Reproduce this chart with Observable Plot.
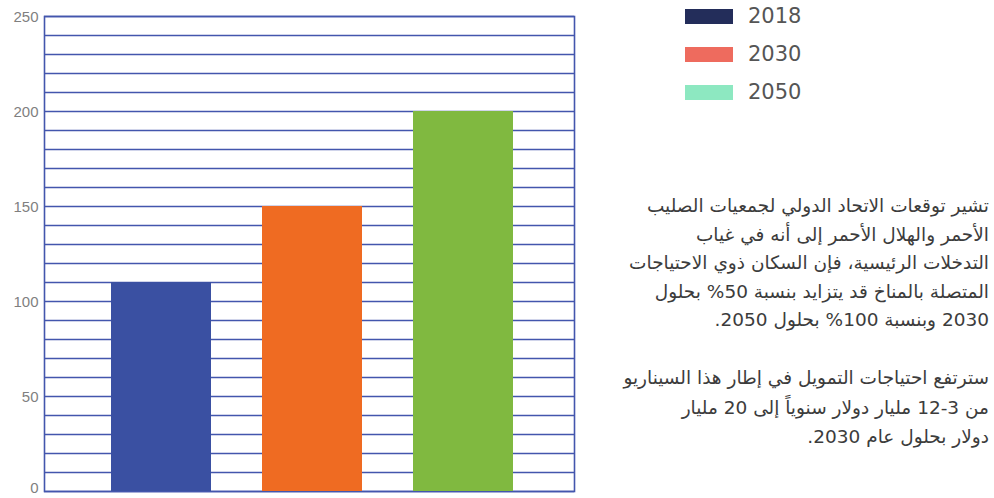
<!DOCTYPE html>
<html>
<head>
<meta charset="utf-8">
<script src="https://cdn.jsdelivr.net/npm/d3@7"></script>
<script src="https://cdn.jsdelivr.net/npm/@observablehq/plot@0.6"></script>
<style>
  html, body { margin: 0; padding: 0; background: #fff; }
  #wrap { position: relative; width: 994px; height: 498px; overflow: hidden; }
  #chart { position: absolute; left: 0; top: 0; }
  #legend { position: absolute; left: 685px; top: 0; font-family: "DejaVu Sans", sans-serif; font-size: 21px; color: #555; }
  .row { position: absolute; left: 0; white-space: nowrap; display: flex; align-items: center; height: 20px; }
  .sw { width: 48px; height: 15px; margin-right: 15px; }
  .note { position: absolute; right: 5px; direction: rtl; text-align: right; white-space: nowrap;
          font-family: "DejaVu Sans", sans-serif; font-size: 18.5px; color: #3c3c3c; }
  .ltr { direction: ltr; unicode-bidi: isolate; }
</style>
</head>
<body>
<div id="wrap">
  <div id="chart"></div>
  <div id="legend"></div>
  <div class="note" id="note1" style="top:192px; line-height:28.5px;"></div>
  <div class="note" id="note2" style="top:363px; line-height:29.5px;"></div>
</div>
<script>
const years = ["2018", "2030", "2050"];
const values = [110, 150, 200];
const barColors = ["#3a50a2", "#ef6b22", "#80b940"];
const legendColors = ["#232d5a", "#ee6b5e", "#8de8c1"];
const yTicks = [50, 100, 150, 200, 250];
const yTickZero = [0];
const gridValues = [0,10,20,30,40,50,60,70,80,90,100,110,120,130,140,150,160,170,180,190,200,210,220,230,240,250];
const note1Lines = [
  "تشير توقعات الاتحاد الدولي لجمعيات الصليب",
  "الأحمر والهلال الأحمر إلى أنه في غياب",
  "التدخلات الرئيسية، فإن السكان ذوي الاحتياجات",
  "المتصلة بالمناخ قد يتزايد بنسبة <span class='ltr'>%50</span> بحلول",
  "2030 وبنسبة <span class='ltr'>%100</span> بحلول 2050."
];
const note2Lines = [
  "سترتفع احتياجات التمويل في إطار هذا السيناريو",
  "من <span class='ltr'>12-3</span> مليار دولار سنوياً إلى 20 مليار",
  "دولار بحلول عام 2030."
];

const data = years.map((y, i) => ({year: y, value: values[i]}));
const gridColor = "#4356ad";
const axisStyle = {tickSize: 0, tickPadding: 6, fontSize: 15, color: "#7f7f7f", label: null};

const chart = Plot.plot({
  width: 590,
  height: 498,
  marginLeft: 44,
  marginRight: 16,
  marginTop: 16,
  marginBottom: 7,
  style: {background: "transparent", fontFamily: "Liberation Sans, sans-serif"},
  x: {type: "band", domain: years, paddingInner: 0.339, paddingOuter: 0.4215, align: 0.52, axis: null},
  y: {domain: [0, 250]},
  color: {domain: years, range: barColors},
  marks: [
    Plot.ruleY(gridValues, {stroke: gridColor, strokeWidth: 1.6}),
    Plot.frame({stroke: gridColor, strokeWidth: 1.6}),
    Plot.barY(data, {x: "year", y: "value", fill: "year"}),
    Plot.axisY({ticks: yTicks, ...axisStyle, dy: 1}),
    Plot.axisY({ticks: yTickZero, ...axisStyle, dy: -3})
  ]
});
document.getElementById("chart").appendChild(chart);

const legend = document.getElementById("legend");
years.forEach((y, i) => {
  const row = document.createElement("div");
  row.className = "row";
  row.style.top = (6 + i * 38) + "px";
  const sw = document.createElement("div");
  sw.className = "sw";
  sw.style.background = legendColors[i];
  const t = document.createElement("span");
  t.textContent = y;
  row.appendChild(sw);
  row.appendChild(t);
  legend.appendChild(row);
});

document.getElementById("note1").innerHTML = note1Lines.map(l => `<div>${l}</div>`).join("");
document.getElementById("note2").innerHTML = note2Lines.map(l => `<div>${l}</div>`).join("");
</script>
</body>
</html>
